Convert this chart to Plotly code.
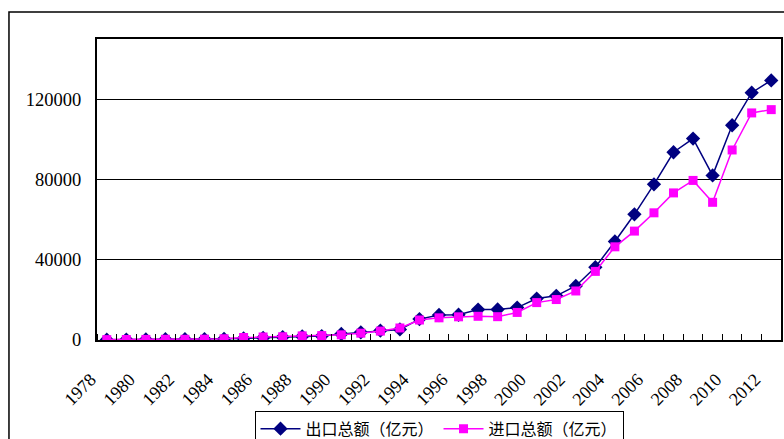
import plotly.graph_objects as go

# China total exports / imports, 1978-2012 (unit: 100 million yuan)
years = list(range(1978, 2013))
exports = [167.6, 211.7, 271.2, 367.6, 413.8, 438.3, 580.5, 808.9, 1082.1, 1470.0,
           1766.7, 1956.0, 2985.8, 3827.1, 4676.3, 5284.8, 10421.8, 12451.8, 12576.4,
           15160.7, 15223.6, 16159.8, 20634.4, 22024.4, 26947.9, 36287.9, 49103.3,
           62648.1, 77597.2, 93563.6, 100394.9, 82029.7, 107022.8, 123240.6, 129359.3]
imports = [187.4, 242.9, 298.8, 367.7, 357.5, 421.8, 620.5, 1257.8, 1498.3, 1614.2,
           2055.1, 2199.9, 2574.3, 3398.7, 4443.3, 5986.2, 9960.1, 11048.1, 11557.4,
           11806.5, 11626.1, 13736.5, 18638.8, 20159.2, 24430.3, 34195.6, 46435.8,
           54273.7, 63376.9, 73300.1, 79526.5, 68618.4, 94699.3, 113161.4, 114801.0]
x_labels = [str(y) for y in range(1978, 2013, 2)]
y_ticks = [0, 40000, 80000, 120000]
series_names = ["出口总额（亿元）", "进口总额（亿元）"]

num_font = "Liberation Serif, serif"

fig = go.Figure()
fig.add_trace(go.Scatter(
    x=years, y=exports, name=series_names[0], mode="lines+markers",
    line=dict(color="#000080", width=1.5),
    marker=dict(symbol="diamond", size=11, color="#000080"),
))
fig.add_trace(go.Scatter(
    x=years, y=imports, name=series_names[1], mode="lines+markers",
    line=dict(color="#FF00FF", width=1.5),
    marker=dict(symbol="square", size=9, color="#FF00FF"),
))

fig.update_layout(
    width=784, height=439,
    margin=dict(l=97, r=3, t=39, b=99, autoexpand=False),
    paper_bgcolor="white", plot_bgcolor="white",
    font=dict(family=num_font, size=17, color="#000000"),
    showlegend=True,
    legend=dict(
        orientation="h", x=0.5, xanchor="center", y=-0.235, yanchor="top",
        bordercolor="#000000", borderwidth=1, bgcolor="white",
        font=dict(family="Noto Sans CJK SC, sans-serif", size=16, color="#000000"),
        itemwidth=40, traceorder="normal",
    ),
    xaxis=dict(
        range=[1977.5, 2012.5], automargin=False,
        tickmode="array", tickvals=[int(v) for v in x_labels], ticktext=x_labels,
        tickangle=-45, ticks="", showgrid=False, zeroline=False,
        showline=True, linecolor="#000000", linewidth=2, mirror=True,
        ticklabelstandoff=20, ticklabelshift=-16,
        minor=dict(tick0=1977.5, dtick=1, ticks="inside", ticklen=6,
                   tickcolor="#000000", tickwidth=1, showgrid=False),
        tickfont=dict(family=num_font, size=18),
    ),
    yaxis=dict(
        range=[0, 150000], automargin=False,
        tickmode="array", tickvals=y_ticks, ticktext=[str(v) for v in y_ticks],
        ticks="inside", ticklen=5, tickcolor="#000000",
        showgrid=True, gridcolor="#000000", gridwidth=1, zeroline=False,
        showline=True, linecolor="#000000", linewidth=2, mirror=True,
        ticklabelstandoff=10,
        tickfont=dict(family=num_font, size=18.5),
    ),
)

# Outer chart-area frame
fig.add_shape(type="rect", xref="paper", yref="paper",
              x0=-0.1287, x1=1.2, y0=-0.6, y1=1.0897,
              line=dict(color="#000000", width=1.5), layer="below")

fig.write_html("out.html")
